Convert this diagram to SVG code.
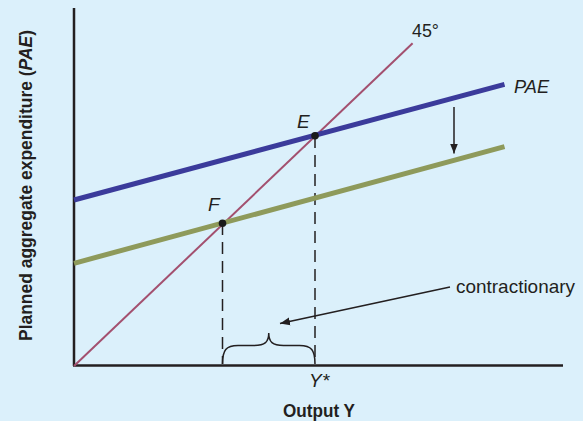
<svg xmlns="http://www.w3.org/2000/svg" width="583" height="421" viewBox="0 0 583 421">
<style>
.t{font-family:"Liberation Sans",Arial,sans-serif;fill:#231f20;font-size:19px}
.i{font-style:italic}
.b{font-weight:bold}
.dash{stroke:#231f20;stroke-width:1.5;stroke-dasharray:12 7;fill:none}
.thin{stroke:#231f20;stroke-width:1.5;fill:none}
</style>
<defs>
<marker id="ah" viewBox="0 0 10 10" refX="10" refY="5" markerWidth="10" markerHeight="10" markerUnits="userSpaceOnUse" orient="auto">
<path d="M0,1 L10,5 L0,9 Z" fill="#231f20"/>
</marker>
</defs>
<rect width="583" height="421" fill="#dbf0fb"/>
<g id="axes">
<line x1="74" y1="8" x2="74" y2="366" stroke="#231f20" stroke-width="2.5"/>
<line x1="73" y1="365.5" x2="563" y2="365.5" stroke="#231f20" stroke-width="2.5"/>
</g>
<g id="connectors">
<line class="dash" x1="222.5" y1="223" x2="222.5" y2="364"/>
<line class="dash" x1="315" y1="136" x2="315" y2="364"/>
<line x1="74" y1="366" x2="412.6" y2="43.3" stroke="#a3506f" stroke-width="2"/>
<line x1="74" y1="200" x2="504.5" y2="84.3" stroke="#3b3b9b" stroke-width="5"/>
<line x1="74" y1="263.3" x2="504.5" y2="146.7" stroke="#8e9a5b" stroke-width="5"/>
<line class="thin" x1="454" y1="107" x2="454" y2="153.5" marker-end="url(#ah)"/>
<line class="thin" x1="450" y1="287" x2="280" y2="323.5" marker-end="url(#ah)"/>
<path class="thin" d="M222.5,364 C222.5,350 226,345.5 238,345.5 L254,345.5 C265,345.5 268.75,342 268.75,333 C268.75,342 272.5,345.5 283.5,345.5 L299.5,345.5 C311.5,345.5 315,350 315,364"/>
</g>
<g id="pointE"><circle cx="315" cy="135.7" r="3.8" fill="#1a1a1a"/><text class="t i" x="297" y="128.3">E</text></g>
<g id="pointF"><circle cx="222.5" cy="223.3" r="3.8" fill="#1a1a1a"/><text class="t i" x="208" y="211">F</text></g>
<g id="labels">
<text class="t" x="412" y="37" textLength="27" lengthAdjust="spacingAndGlyphs">45°</text>
<text class="t i" x="514" y="93" textLength="35" lengthAdjust="spacingAndGlyphs">PAE</text>
<text class="t" x="456" y="292.7" textLength="119" lengthAdjust="spacingAndGlyphs">contractionary</text>
<text class="t" x="309" y="387"><tspan class="i">Y</tspan><tspan dx="1">*</tspan></text>
<text class="t b" x="283" y="416.5" textLength="72" lengthAdjust="spacingAndGlyphs">Output Y</text>
<text class="t b" transform="translate(32,185.5) rotate(-90)" text-anchor="middle" textLength="311" lengthAdjust="spacingAndGlyphs">Planned aggregate expenditure (<tspan class="i">PAE</tspan>)</text>
</g>
</svg>
